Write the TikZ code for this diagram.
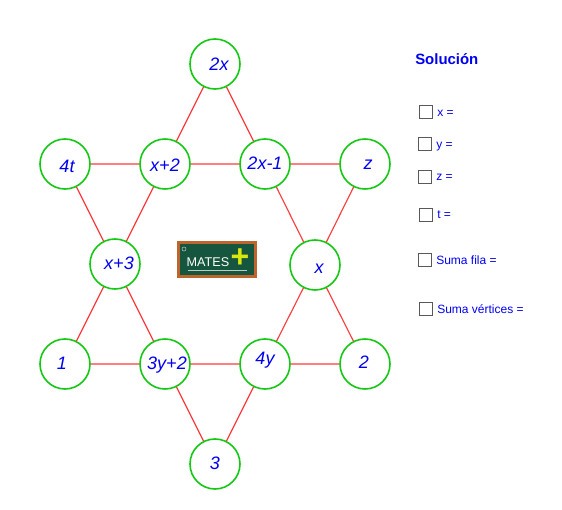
\documentclass[tikz,border=0pt]{standalone}
\usepackage{fontspec}
\setmainfont{Liberation Sans}
\definecolor{ringgreen}{RGB}{20,200,20}
\definecolor{edgered}{RGB}{250,60,60}
\definecolor{lblue}{RGB}{0,0,240}
\definecolor{boardgreen}{RGB}{22,85,62}
\definecolor{boardframe}{RGB}{190,100,45}
\tikzset{
  x=0.75pt,y=-0.75pt,
  ring/.style={circle,draw=ringgreen,line width=1.2pt,fill=white,minimum size=37.5pt,inner sep=0pt},
  val/.style={text=lblue,font=\fontsize{13.5}{15}\selectfont\itshape,inner sep=0pt},
  link/.style={draw=edgered,line width=0.85pt},
  tick/.style={draw=black!65,line width=0.85pt,fill=white,minimum size=10pt,inner sep=0pt},
  lab/.style={text=lblue,font=\fontsize{9}{11}\selectfont,inner sep=0pt,anchor=base west},
}
\begin{document}
\begin{tikzpicture}
\useasboundingbox (0,0) rectangle (562,510);
\node[ring] (a) at (215,64) {};
\node[ring] (b1) at (65,164) {};
\node[ring] (b2) at (165,164) {};
\node[ring] (b3) at (265,164) {};
\node[ring] (b4) at (365,164) {};
\node[ring] (c1) at (115,264) {};
\node[ring] (c2) at (315,265) {};
\node[ring] (d1) at (65,364) {};
\node[ring] (d2) at (165,364) {};
\node[ring] (d3) at (265,364) {};
\node[ring] (d4) at (365,364) {};
\node[ring] (e) at (215,464) {};
\draw[link] (a)--(b2) (a)--(b3) (b1)--(b2) (b2)--(b3) (b3)--(b4)
  (b1)--(c1) (b2)--(c1) (b3)--(c2) (b4)--(c2)
  (c1)--(d1) (c1)--(d2) (c2)--(d3) (c2)--(d4)
  (d1)--(d2) (d2)--(d3) (d3)--(d4) (d2)--(e) (d3)--(e);
\node[val] (ta) at (219,64) {2x};
\node[val] (tb1) at (67,166) {4t};
\node[val] (tb2) at (165,165) {x+2};
\node[val] (tb3) at (265,163) {2x-1};
\node[val] (tb4) at (368,165) {z};
\node[val] (tc1) at (119,263) {x+3};
\node[val] (tc2) at (319,269) {x};
\node[val] (td1) at (62,363) {1};
\node[val] (td2) at (167,365) {3y+2};
\node[val] (td3) at (265,360) {4y};
\node[val] (td4) at (364,362) {2};
\node[val] (te) at (215,463) {3};
% logo
\node[draw=boardframe,line width=2.2pt,fill=boardgreen,minimum width=58pt,minimum height=26pt,inner sep=0pt] (board) at (217,259.5) {};
\node[text=white,font=\fontsize{9.5}{11}\selectfont,inner sep=0pt] (mates) at (208,262) {MATES};
\node[text=yellow!85!green,font=\fontsize{24}{24}\selectfont\bfseries,inner sep=0pt] (plus) at (240,258) {+};
\draw[white!70!boardgreen,line width=0.7pt] (188,270) -- (247,270);
\draw[white!70!boardgreen,line width=0.4pt] (184,249) circle (2);
% solution panel
\node[text=lblue,font=\fontsize{11.2}{14}\selectfont\bfseries,inner sep=0pt,anchor=base west] (sol) at (415,65) {Solución};
\node[tick] (k1) at (426,112) {};
\node[lab] (l1) at (437,117) {x =};
\node[tick] (k2) at (425,144) {};
\node[lab] (l2) at (436,149) {y =};
\node[tick] (k3) at (425,177) {};
\node[lab] (l3) at (436,181) {z =};
\node[tick] (k4) at (426,215) {};
\node[lab] (l4) at (437,219) {t =};
\node[tick] (k5) at (425,260) {};
\node[lab] (l5) at (436,265) {Suma fila =};
\node[tick] (k6) at (426,309) {};
\node[lab] (l6) at (437,314) {Suma vértices =};
\end{tikzpicture}
\end{document}
